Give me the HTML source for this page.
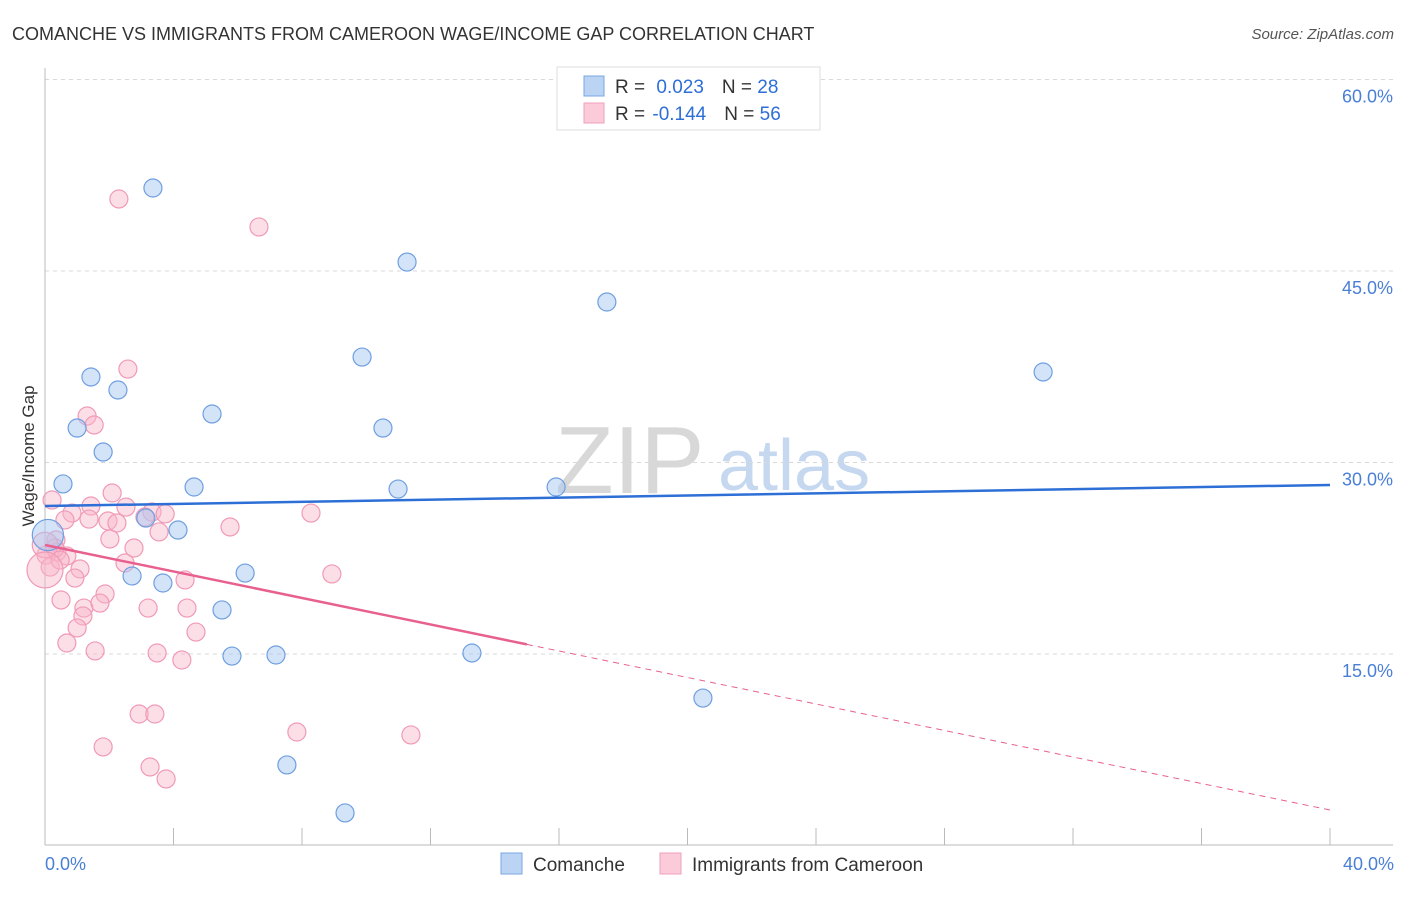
<!DOCTYPE html>
<html><head><meta charset="utf-8"><style>
body{margin:0;background:#fff;font-family:"Liberation Sans",sans-serif}
svg text{font-family:"Liberation Sans",sans-serif}
</style></head><body>
<svg id="chart" width="1406" height="892" xmlns="http://www.w3.org/2000/svg">
<text x="12" y="40" font-size="18" fill="#333">COMANCHE VS IMMIGRANTS FROM CAMEROON WAGE/INCOME GAP CORRELATION CHART</text>
<text x="1394" y="39" font-size="15" fill="#555" text-anchor="end" font-style="italic">Source: ZipAtlas.com</text>
<g>
<text x="555" y="493" font-size="96" fill="#d8d8d8" font-family="Liberation Serif,serif">ZIP</text>
<text x="718" y="490" font-size="72" fill="#c5d8f0">atlas</text>
</g>
<g id="grid"></g>
<g id="axes"></g>
<g id="pink"></g>
<g id="blue"></g>
<g id="trends"></g>
<text transform="translate(34,456) rotate(-90)" font-size="17" fill="#333" text-anchor="middle">Wage/Income Gap</text>
<text x="45" y="870" font-size="18" fill="#4a7fd6">0.0%</text>
<text x="1394" y="870" font-size="18" fill="#4a7fd6" text-anchor="end">40.0%</text>
<g>
<rect x="557" y="67" width="263" height="63" fill="#fff" stroke="#ddd"/>
<rect x="584" y="76" width="20" height="20" fill="#bcd4f4" stroke="#7aa6e0"/>
<rect x="584" y="103" width="20" height="20" fill="#fbcbd9" stroke="#f0a0bb"/>
<text x="615" y="93" font-size="19" fill="#333">R = <tspan fill="#2d6fd6" dx="6">0.023</tspan><tspan dx="18" fill="#333">N = </tspan><tspan fill="#2d6fd6">28</tspan></text>
<text x="615" y="120" font-size="19" fill="#333">R = <tspan fill="#2d6fd6" dx="2">-0.144</tspan><tspan dx="18" fill="#333">N = </tspan><tspan fill="#2d6fd6">56</tspan></text>
</g>
<g>
<rect x="501" y="853" width="21" height="21" fill="#bcd4f4" stroke="#7aa6e0"/>
<text x="533" y="871" font-size="19" fill="#333">Comanche</text>
<rect x="660" y="853" width="21" height="21" fill="#fbcbd9" stroke="#f0a0bb"/>
<text x="692" y="871" font-size="19" fill="#333">Immigrants from Cameroon</text>
</g>
</svg>
<script>
const yTicks=[15,30,45,60];
const xTicks=[0,4,8,12,16,20,24,28,32,36,40];
const blueX=[3.36,11.27,17.49,9.87,31.07,1.43,2.27,5.20,1.00,10.52,1.81,0.56,4.64,10.99,15.91,3.14,4.14,0.09,2.71,6.23,3.67,5.51,5.82,7.19,13.29,20.48,7.53,9.34];
const blueY=[51.50,45.70,42.57,38.26,37.09,36.70,35.68,33.80,32.70,32.70,30.82,28.32,28.08,27.92,28.08,25.65,24.71,24.32,21.11,21.34,20.56,18.45,14.84,14.92,15.08,11.55,6.31,2.55];
const blueW=[1,1,1,1,1,1,1,1,1,1,1,1,1,1,1,1,1,3,1,1,1,1,1,1,1,1,1,1];
const pinkX=[2.30,6.66,2.58,1.31,1.53,0.22,2.09,1.43,0.84,0.62,1.37,2.52,1.96,2.24,3.33,3.74,3.11,5.76,8.28,3.55,2.02,0.34,0.37,0.03,0.68,2.77,2.49,0.31,1.09,0.93,4.36,8.93,0.50,1.87,1.21,1.71,3.21,4.42,4.70,1.18,1.00,0.68,1.56,3.49,4.26,2.93,3.42,7.84,11.39,1.81,3.27,3.77,0.16,0.47,0.00,0.00];
const pinkY=[50.64,48.45,37.32,33.64,32.94,27.06,27.61,26.59,26.04,25.50,25.57,26.51,25.42,25.26,26.12,25.97,25.73,24.95,26.04,24.56,24.01,23.93,22.99,22.75,22.68,23.30,22.13,23.30,21.66,20.95,20.80,21.27,19.23,19.70,18.60,18.99,18.60,18.60,16.72,17.98,17.04,15.86,15.24,15.08,14.53,10.30,10.30,8.89,8.66,7.72,6.15,5.21,21.81,22.36,23.54,21.58];
const pinkW=[1,1,1,1,1,1,1,1,1,1,1,1,1,1,1,1,1,1,1,1,1,1,1,1,1,1,1,1,1,1,1,1,1,1,1,1,1,1,1,1,1,1,1,1,1,1,1,1,1,1,1,1,1,1,2,4];
const blueTrend=[26.59,28.24];
const pinkTrend=[23.54,2.78];
const pinkSolidEnd=15.0;
const NS='http://www.w3.org/2000/svg';
const X0=45,X1=1330,Y0=845.5,YPER=191.5/15;
const sx=v=>X0+(v/40)*(X1-X0);
const sy=v=>Y0-v*YPER;
function mk(tag,parent,attrs){const e=document.createElementNS(NS,tag);for(const k in attrs)e.setAttribute(k,attrs[k]);parent.appendChild(e);return e;}
const grid=document.getElementById('grid'),axes=document.getElementById('axes');
yTicks.forEach(t=>{
 const l=mk('line',grid,{x1:45,x2:1393,y1:sy(t),y2:sy(t),stroke:'#d8d8d8','stroke-dasharray':'4,4'});
 
 
 const tx=mk('text',grid,{x:1393,y:sy(t)+23,'font-size':18,fill:'#4a7fd6','text-anchor':'end'});
 tx.textContent=t.toFixed(1)+'%';
 
 
});
const ax=mk('line',axes,{x1:45,x2:1393,y1:845,y2:845,stroke:'#bbb'});


const ay=mk('line',axes,{x1:45,x2:45,y1:68,y2:845,stroke:'#bbb'});


xTicks.forEach(t=>{
 const l=mk('line',axes,{x1:sx(t),x2:sx(t),y1:828,y2:845,stroke:'#bbb'});
 
 
});
function pts(g,xs,ys,ws,fill,stroke,name){
 xs.forEach((x,i)=>{
  const c=mk('circle',g,{cx:sx(x),cy:sy(ys[i]),r:9*Math.sqrt(ws[i]),fill:fill,stroke:stroke,'stroke-width':1.2});
  
  
 });
}
pts(document.getElementById('pink'),pinkX,pinkY,pinkW,'rgba(248,182,202,0.45)','#f09ab8','cameroon-point');
pts(document.getElementById('blue'),blueX,blueY,blueW,'rgba(168,200,242,0.5)','#6f9fe0','comanche-point');
const tr=document.getElementById('trends');
const bl=mk('line',tr,{x1:sx(0),y1:sy(blueTrend[0]),x2:sx(40),y2:sy(blueTrend[1]),stroke:'#2d6fd6','stroke-width':2.5});


const pv=x=>pinkTrend[0]+(pinkTrend[1]-pinkTrend[0])*x/40;
const ps=mk('line',tr,{x1:sx(0),y1:sy(pv(0)),x2:sx(pinkSolidEnd),y2:sy(pv(pinkSolidEnd)),stroke:'#e8608f','stroke-width':2.5});


const pd=mk('line',tr,{x1:sx(pinkSolidEnd),y1:sy(pv(pinkSolidEnd)),x2:sx(40),y2:sy(pv(40)),stroke:'#e8608f','stroke-width':1,'stroke-dasharray':'6,5'});


</script>
</body></html>
